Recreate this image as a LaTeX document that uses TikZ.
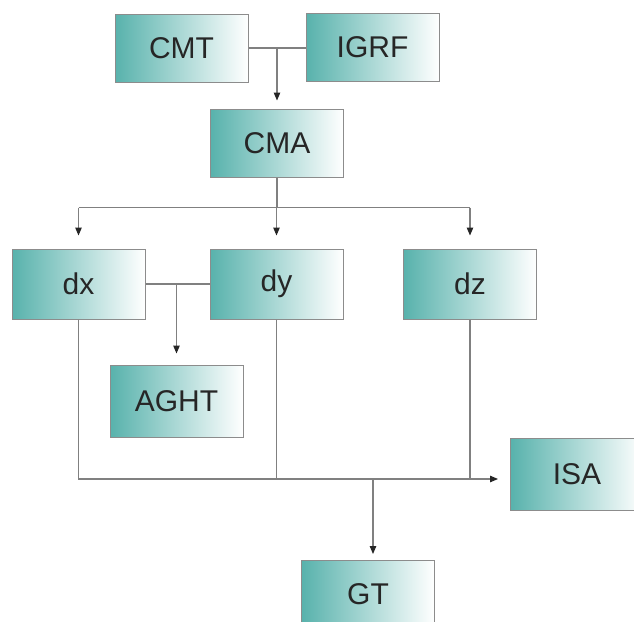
\documentclass[tikz,border=0pt]{standalone}
\usepackage{fontspec}
\setmainfont{Liberation Sans}
\usetikzlibrary{arrows.meta}
\definecolor{tealbox}{RGB}{88,178,172}
\definecolor{lineg}{RGB}{128,128,128}
\definecolor{edgeg}{RGB}{140,140,140}
\tikzset{
  box/.style={draw=edgeg, line width=1pt, left color=tealbox, right color=white,
    minimum width=133pt, minimum height=68pt, inner sep=0pt,
    font=\fontsize{30}{34}\selectfont, text=black!85},
  conn/.style={draw=lineg, line width=1.1pt},
  arr/.style={conn, -{Triangle[length=8pt,width=6.5pt,color=black!85]}}
}
\begin{document}
\begin{tikzpicture}[x=1pt,y=-1pt]
\useasboundingbox (0,0) rectangle (634,621);
\clip (0,0) rectangle (634,621);
\node[box] (cmt)  at (181.5,48) {CMT};
\node[box] (igrf) at (372.5,47) {IGRF};
\node[box] (cma)  at (277,143) {CMA};
\node[box, minimum height=70pt] (dx) at (78.5,284) {dx};
\node[box, minimum height=70pt] (dy) at (276.5,284) {dy};
\node[box, minimum height=70pt] (dz) at (470,284) {dz};
\node[box, minimum height=72pt] (aght) at (176.5,401) {AGHT};
\node[box, minimum height=72pt, anchor=west] (isa) at (510,474) {ISA};
\node[box, anchor=north west] (gt) at (301,560) {GT};
\coordinate (split) at (277,207.5);
\coordinate (bus) at (0,479);
\coordinate (gtx) at (373,0);
% CMT + IGRF -> CMA
\draw[conn] (cmt.east) -- (igrf.west |- cmt.east);
\draw[arr, shorten >=8pt] (cma.north |- cmt.east) -- (cma.north);
% CMA -> dx, dy, dz
\draw[conn] (cma.south) -- (split);
\draw[conn] (dx.north |- split) -- (dz.north |- split);
\draw[arr, shorten >=13pt] (dx.north |- split) -- (dx.north);
\draw[arr, shorten >=13pt] (dy.north |- split) -- (dy.north);
\draw[arr, shorten >=13pt] (dz.north |- split) -- (dz.north);
% dx + dy -> AGHT
\draw[conn] (dx.east) -- (dy.west);
\draw[arr, shorten >=11pt] (aght.north |- dx.east) -- (aght.north);
% dx, dy, dz -> ISA
\draw[arr, shorten >=12pt] (dx.south) -- (dx.south |- bus) -- (isa.west |- bus);
\draw[conn] (dy.south) -- (dy.south |- bus);
\draw[conn] (dz.south) -- (dz.south |- bus);
% -> GT
\draw[arr, shorten >=6pt] (gtx |- bus) -- (gtx |- gt.north);
\end{tikzpicture}
\end{document}
